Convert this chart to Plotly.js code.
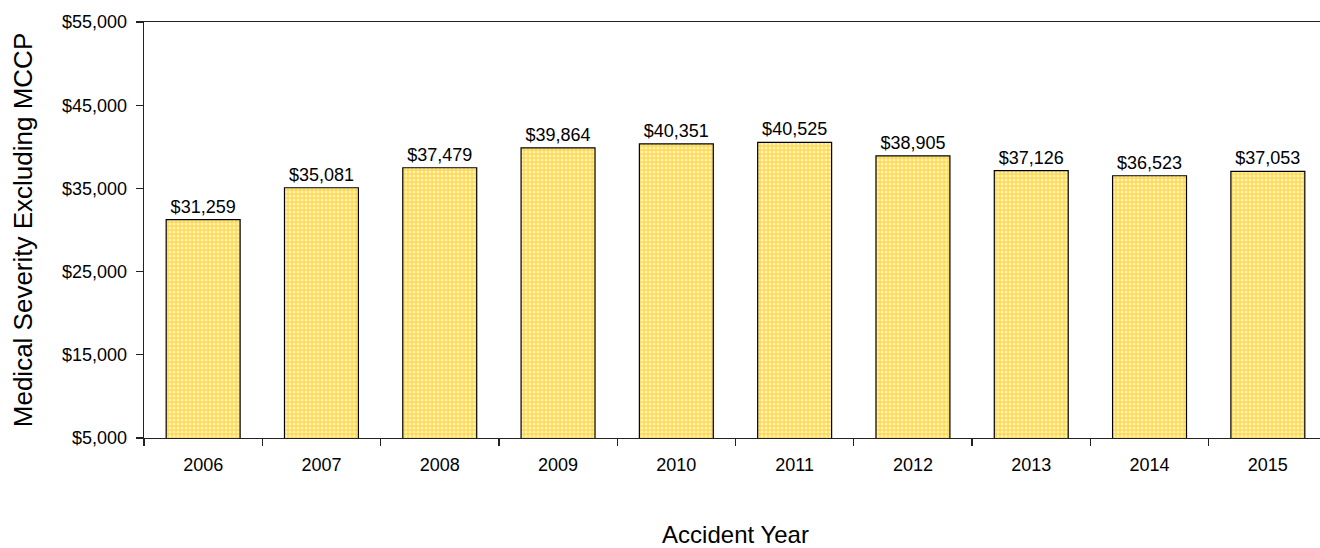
<!DOCTYPE html>
<html>
<head>
<meta charset="utf-8">
<script src="https://cdn.plot.ly/plotly-3.0.1.min.js"></script>
<style>
  html, body { margin: 0; padding: 0; overflow: hidden; background: #fff; }
  #chart { width: 1330px; height: 548px; }
</style>
</head>
<body>
<div id="chart"></div>
<script>
// Accident years on the category axis
const years = ['2006', '2007', '2008', '2009', '2010', '2011', '2012', '2013', '2014', '2015'];
// Medical severity excluding MCCP, in dollars
const severity = [31259, 35081, 37479, 39864, 40351, 40525, 38905, 37126, 36523, 37053];
// Value-axis tick positions and their labels
const yTicks = [5000, 15000, 25000, 35000, 45000, 55000];
const yTickLabels = ['$5,000', '$15,000', '$25,000', '$35,000', '$45,000', '$55,000'];

const font = 'Liberation Sans, Arial, sans-serif';

const trace = {
  type: 'bar',
  x: years,
  y: severity,
  texttemplate: '$%{y:,}',
  textposition: 'outside',
  cliponaxis: false,
  textfont: { family: font, size: 18, color: '#000' },
  marker: {
    color: '#FFD84E',
    line: { color: '#000', width: 1.2 },
    pattern: { shape: '.', bgcolor: '#FFD84E', fgcolor: '#FFF2BC', size: 4, solidity: 0.45, fillmode: 'replace' }
  },
  hoverinfo: 'x+y'
};

const layout = {
  width: 1330,
  height: 548,
  margin: { l: 144, r: 3, t: 22, b: 110 },
  paper_bgcolor: '#fff',
  plot_bgcolor: '#fff',
  bargap: 0.375,
  showlegend: false,
  font: { family: font, color: '#000' },
  xaxis: {
    type: 'category',
    showline: true,
    mirror: true,
    linecolor: '#222',
    linewidth: 1.3,
    ticks: 'outside',
    tickson: 'boundaries',
    ticklen: 7,
    tickcolor: '#222',
    tickwidth: 1.2,
    ticklabelstandoff: 10,
    tickfont: { family: font, size: 18, color: '#000' },
    showgrid: false,
    title: { text: 'Accident Year', font: { family: font, size: 24, color: '#000' }, standoff: 57 }
  },
  yaxis: {
    range: [5000, 55000],
    tickvals: yTicks,
    ticktext: yTickLabels,
    showline: true,
    linecolor: '#222',
    linewidth: 1.3,
    ticks: 'outside',
    ticklen: 7,
    tickcolor: '#222',
    tickwidth: 1.2,
    ticklabelstandoff: 5,
    tickfont: { family: font, size: 18, color: '#000' },
    showgrid: false,
    zeroline: false,
    title: { text: 'Medical Severity Excluding MCCP', font: { family: font, size: 26, color: '#000' }, standoff: 22 }
  }
};

Plotly.newPlot('chart', [trace], layout, { displayModeBar: false, staticPlot: true });
</script>
</body>
</html>
